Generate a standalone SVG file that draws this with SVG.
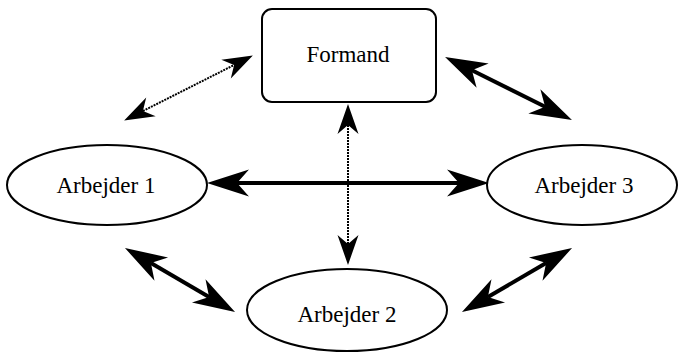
<svg xmlns="http://www.w3.org/2000/svg" width="681" height="361" viewBox="0 0 681 361">
<style>
.node{fill:#fff;stroke:#000;stroke-width:2}
text{font-family:'Liberation Serif','Times New Roman',serif;font-size:23px;text-anchor:middle;fill:#000}
.thick{stroke:#000;stroke-width:4;fill:none;marker-start:url(#bigA);marker-end:url(#bigA)}
.thin{stroke:#000;stroke-width:2;stroke-dasharray:2 1;fill:none;marker-start:url(#smA);marker-end:url(#smA)}
</style>
<defs>
<marker id="bigA" markerUnits="userSpaceOnUse" orient="auto-start-reverse" refX="0" refY="0" markerWidth="60" markerHeight="40" viewBox="-15 -20 60 40" overflow="visible">
<path d="M30,0 L-12,-13.5 L0,0 L-12,13.5 Z" fill="#000"/>
</marker>
<marker id="smA" markerUnits="userSpaceOnUse" orient="auto-start-reverse" refX="0" refY="0" markerWidth="40" markerHeight="30" viewBox="-12 -15 40 30" overflow="visible">
<path d="M21,0 L-9,-10.5 L0,0 L-9,10.5 Z" fill="#000"/>
</marker>
</defs>
<rect width="681" height="361" fill="#fff"/>
<g id="connectors">
<line class="thick" x1="237" y1="183" x2="459" y2="183"/>
<line class="thin" x1="348" y1="125" x2="348" y2="244"/>
<line class="thin" x1="142.9" y1="111" x2="234.1" y2="65"/>
<line class="thick" x1="471.9" y1="70.3" x2="545.1" y2="106.7"/>
<line class="thick" x1="150.9" y1="263.1" x2="209.1" y2="296.9"/>
<line class="thick" x1="546.1" y1="263.1" x2="487.9" y2="296.9"/>
</g>
<g id="formand">
<rect class="node" x="262" y="9" width="174" height="93" rx="10"/>
<text x="348" y="62" font-family="Liberation Serif, serif" font-size="23">Formand</text>
</g>
<g id="arbejder1">
<ellipse class="node" cx="107" cy="185" rx="100" ry="40"/>
<text x="106" y="193" font-family="Liberation Serif, serif" font-size="23">Arbejder 1</text>
</g>
<g id="arbejder3">
<ellipse class="node" cx="582" cy="185" rx="95" ry="40"/>
<text x="584" y="193" font-family="Liberation Serif, serif" font-size="23">Arbejder 3</text>
</g>
<g id="arbejder2">
<ellipse class="node" cx="347" cy="310" rx="100" ry="41"/>
<text x="347" y="322" font-family="Liberation Serif, serif" font-size="23">Arbejder 2</text>
</g>
</svg>
